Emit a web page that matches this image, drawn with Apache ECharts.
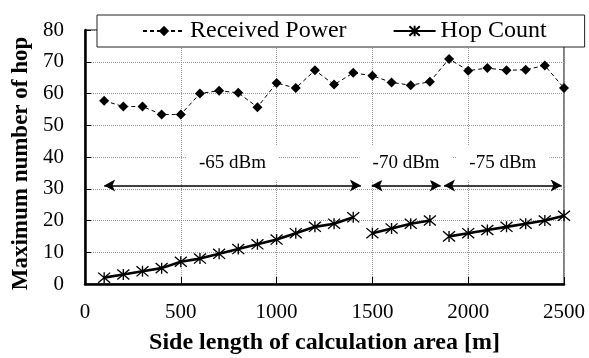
<!DOCTYPE html>
<html>
<head>
<meta charset="utf-8">
<script src="https://cdn.jsdelivr.net/npm/echarts@6/dist/echarts.min.js"></script>
<style>
  html, body { margin: 0; padding: 0; background: #fff; }
  #chart { width: 589px; height: 358px; }
</style>
</head>
<body>
<div id="chart"></div>
<script>
// Side length of the calculation area [m]
const sideLength = [100, 200, 300, 400, 500, 600, 700, 800, 900, 1000, 1100, 1200, 1300,
                    1400, 1500, 1600, 1700, 1800, 1900, 2000, 2100, 2200, 2300, 2400, 2500];

// Maximum number of hops when the threshold is set by received power
const receivedPower = [57.7, 55.9, 55.9, 53.4, 53.4, 60.0, 60.9, 60.2, 55.7, 63.3, 61.7, 67.3, 62.8,
                       66.5, 65.6, 63.5, 62.6, 63.7, 70.9, 67.2, 68.0, 67.3, 67.5, 68.8, 61.7];

// Maximum number of hops when the threshold is set by hop count, one run per threshold
const hopCount65 = [2, 3, 4, 5, 7, 8, 9.5, 11, 12.5, 14, 16, 18, 19, 21];   // 100 – 1400 m
const hopCount70 = [16, 17.5, 19, 20];                                     // 1500 – 1800 m
const hopCount75 = [15, 16, 17, 18, 19, 20, 21.5];                         // 1900 – 2500 m

// Threshold ranges shown with double-headed arrows
const thresholdLabels = ['-65 dBm', '-70 dBm', '-75 dBm'];
const thresholdFrom = [100, 1496, 1874];
const thresholdTo = [1440, 1856, 2488];
const thresholdArrowLevel = 31;

const xTicks = { min: 0, max: 2500, interval: 500 };
const yTicks = { min: 0, max: 80, interval: 10 };

const FONT = 'Liberation Serif';
const STAR = 'path://M-6,-5.5L6,5.5M-6,5.5L6,-5.5M0,-6L0,6';

function pairs(xs, ys) { return ys.map((v, i) => [xs[i], v]); }

const hopSeries = [
  pairs(sideLength.slice(0, 14), hopCount65),
  pairs(sideLength.slice(14, 18), hopCount70),
  pairs(sideLength.slice(18), hopCount75)
].map(d => ({
  name: 'Hop Count',
  type: 'line',
  data: d,
  symbol: STAR,
  symbolSize: [12, 11],
  lineStyle: { color: '#000', width: 2.6 },
  itemStyle: { color: '#000', borderColor: '#000', borderWidth: 1.3 },
  z: 3
}));

const arrowLines = thresholdLabels.map((t, i) => [
  { coord: [thresholdFrom[i], thresholdArrowLevel], name: t },
  { coord: [thresholdTo[i], thresholdArrowLevel] }
]);

const plain = { fontFamily: FONT, fontWeight: 'normal', fontStyle: 'normal', color: '#000' };
const heavy = { fontFamily: FONT, fontWeight: 'bold', fontStyle: 'normal', color: '#000' };

const chart = echarts.init(document.getElementById('chart'), null, { renderer: 'canvas' });

chart.setOption({
  animation: false,
  backgroundColor: '#fff',
  textStyle: { fontFamily: FONT, fontWeight: 'normal' },
  grid: {
    left: 85, right: 25, top: 30, bottom: 74,
    outerBoundsMode: 'none',
    show: true, borderColor: '#000', borderWidth: 1, backgroundColor: 'transparent'
  },
  legend: {
    left: 97, top: 15,
    padding: [4, 38, 4, 45],
    itemWidth: 42, itemHeight: 13, itemGap: 46,
    backgroundColor: '#fff',
    borderColor: '#222', borderWidth: 1,
    textStyle: Object.assign({ fontSize: 24 }, plain),
    data: ['Received Power', 'Hop Count']
  },
  xAxis: {
    type: 'value',
    min: xTicks.min, max: xTicks.max, interval: xTicks.interval,
    name: 'Side length of calculation area [m]',
    nameLocation: 'middle', nameGap: 47,
    nameTextStyle: Object.assign({ fontSize: 24 }, heavy),
    axisLine: { lineStyle: { color: '#000', width: 2.5 } },
    axisTick: { inside: true, length: 7, lineStyle: { color: '#000', width: 1 } },
    axisLabel: Object.assign({ fontSize: 21, margin: 18, formatter: v => String(v) }, plain),
    splitLine: { show: true, lineStyle: { color: '#9a9a9a', type: [1, 1], width: 1 } }
  },
  yAxis: {
    type: 'value',
    min: yTicks.min, max: yTicks.max, interval: yTicks.interval,
    name: 'Maximum number of hop',
    nameLocation: 'middle', nameGap: 47,
    nameTextStyle: Object.assign({ fontSize: 23, padding: [0, 13, 0, 0] }, heavy),
    axisLine: { show: true, lineStyle: { color: '#000', width: 2.5 } },
    axisTick: { show: true, inside: true, length: 6, lineStyle: { color: '#000', width: 1 } },
    axisLabel: Object.assign({ fontSize: 21, margin: 21, formatter: v => String(v) }, plain),
    splitLine: { show: true, lineStyle: { color: '#9a9a9a', type: [1, 1], width: 1 } }
  },
  series: [
    {
      name: 'Received Power',
      type: 'line',
      data: pairs(sideLength, receivedPower),
      symbol: 'diamond',
      symbolSize: 10,
      lineStyle: { color: '#000', width: 1, type: [4, 3] },
      itemStyle: { color: '#000' },
      z: 3,
      markLine: {
        silent: true,
        symbol: ['arrow', 'arrow'],
        symbolSize: [9, 11],
        lineStyle: { color: '#000', width: 1.5, type: 'solid' },
        label: Object.assign({
          show: true,
          position: 'middle',
          formatter: p => p.name,
          fontSize: 19,
          backgroundColor: '#fff',
          padding: [8, 13],
          distance: 5
        }, plain),
        emphasis: { disabled: true },
        data: arrowLines
      }
    },
    ...hopSeries
  ]
});
</script>
</body>
</html>
